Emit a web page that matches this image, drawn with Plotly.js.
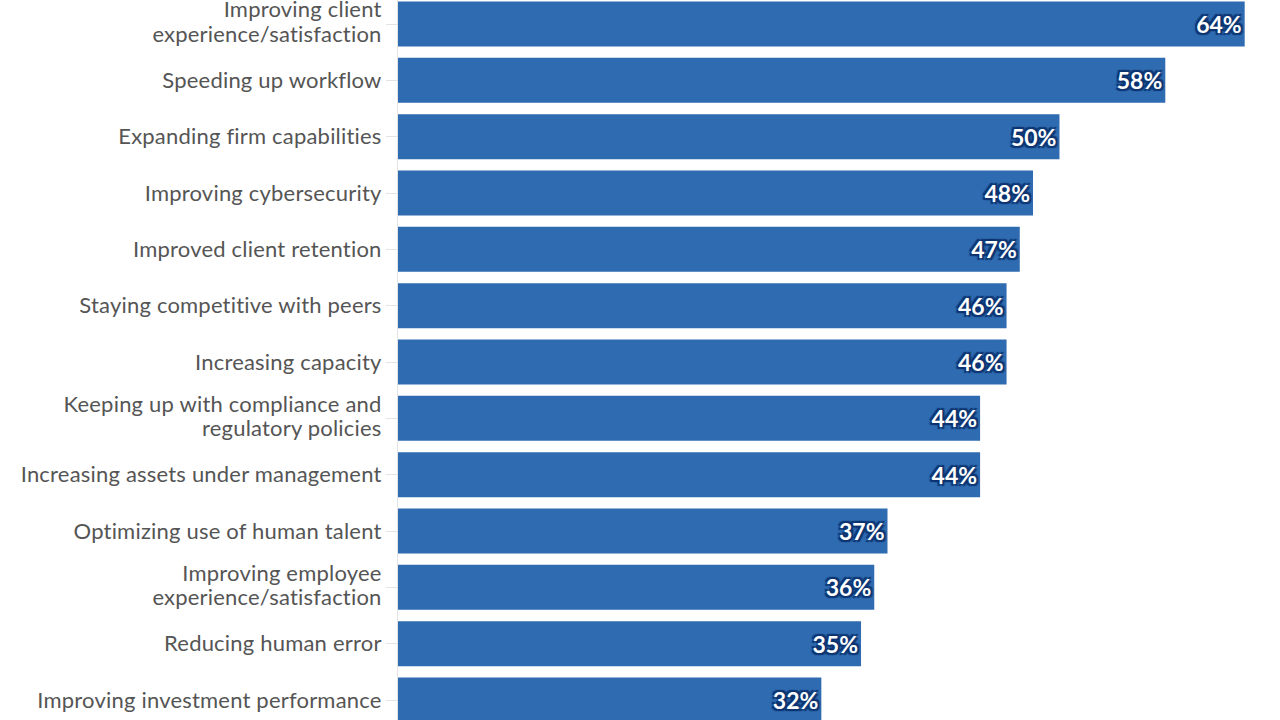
<!DOCTYPE html>
<html>
<head>
<meta charset="utf-8">
<script src="https://cdn.plot.ly/plotly-3.0.1.min.js"></script>
<style>
html,body{margin:0;padding:0;background:#fff;}
#chart{width:1280px;height:720px;}
#chart .ytick text{letter-spacing:0.2px;}
</style>
</head>
<body>
<div id="chart"></div>
<script>
const categories = [
  "Improving client<br>experience/satisfaction",
  "Speeding up workflow",
  "Expanding firm capabilities",
  "Improving cybersecurity",
  "Improved client retention",
  "Staying competitive with peers",
  "Increasing capacity",
  "Keeping up with compliance and<br>regulatory policies",
  "Increasing assets under management",
  "Optimizing use of human talent",
  "Improving employee<br>experience/satisfaction",
  "Reducing human error",
  "Improving investment performance"
];
const values = [64, 58, 50, 48, 47, 46, 46, 44, 44, 37, 36, 35, 32];
const valueLabels = values.map(v => v + "%");

const o = "#0d3470";
Plotly.newPlot("chart", [{
  type: "bar",
  orientation: "h",
  y: categories,
  x: values,
  text: valueLabels,
  textposition: "inside",
  insidetextanchor: "end",
  textangle: 0,
  textfont: {family: "Lato, sans-serif", size: 23, color: "#ffffff", weight: "bold",
    shadow: `-2px -2px 1px ${o}, 2px -2px 1px ${o}, -2px 2px 1px ${o}, 2px 2px 1px ${o}, 0 0 3px ${o}`},
  marker: {color: "#2f6bb0"},
  hoverinfo: "none"
}], {
  width: 1280, height: 720,
  margin: {l: 398, r: 0, t: 0, b: 0},
  paper_bgcolor: "#ffffff", plot_bgcolor: "#ffffff",
  bargap: 0.2,
  showlegend: false,
  xaxis: {range: [0, 66.67], visible: false, fixedrange: true},
  yaxis: {
    type: "category",
    range: [12.355, -0.426],
    ticks: "outside", ticklen: 11, tickcolor: "#e3e3e3", tickwidth: 1,
    showline: true, linecolor: "#e3e3e3", linewidth: 1,
    showgrid: false,
    tickfont: {family: "Lato, sans-serif", size: 22, color: "#555555"},
    automargin: false
  }
}, {displayModeBar: false, staticPlot: true}).then(() => {
  // tighten line spacing of two-line category labels
  document.querySelectorAll("#chart .ytick text").forEach(t => {
    const spans = t.querySelectorAll("tspan.line");
    spans.forEach((s, i) => { if (i > 0) s.setAttribute("dy", "1.1em"); });
  });
});
</script>
</body>
</html>
